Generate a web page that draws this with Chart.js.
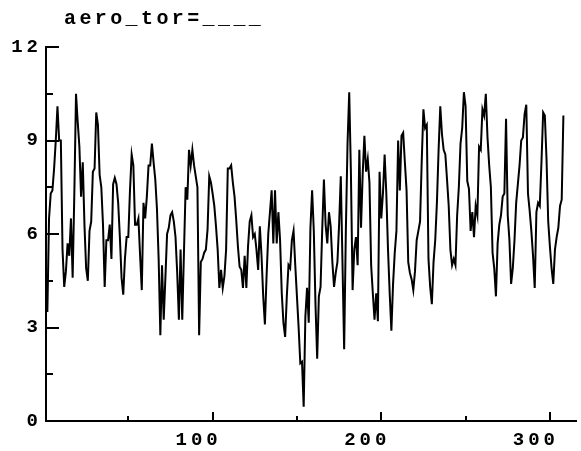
<!DOCTYPE html>
<html>
<head>
<meta charset="utf-8">
<script src="https://cdn.jsdelivr.net/npm/chart.js@4.4.0/dist/chart.umd.min.js"></script>
<style>
  body { margin: 0; background: #fff; }
  #wrap { width: 581px; height: 451px; }
</style>
</head>
<body>
<div id="wrap"><canvas id="lineChart"></canvas></div>
<script>
const titleText = 'aero_tor=____';
const yTicks = [0, 3, 6, 9, 12];
const yMinor = [1.5, 4.5, 7.5, 10.5];
const xTicks = [100, 200, 300];
const xMinor = [50, 150, 250];

// values, one per time step
const values = [
  4.9, 3.5, 6.5, 7.3, 7.4, 8.1, 9.0, 10.1, 9.0, 9.0,
  5.5, 4.3, 4.8, 5.7, 5.3, 6.5, 4.6, 7.3, 10.5, 9.6,
  8.8, 7.2, 8.3, 6.3, 4.9, 4.5, 6.1, 6.4, 8.0, 8.1,
  9.9, 9.5, 7.9, 7.5, 6.3, 4.3, 5.8, 5.8, 6.3, 5.2,
  7.6, 7.8, 7.6, 7.0, 5.9, 4.6, 4.05, 5.2, 5.9, 5.9,
  7.4, 8.55, 8.2, 6.3, 6.3, 6.5, 5.3, 4.2, 7.0, 6.5,
  7.2, 8.2,
  8.2, 8.9, 8.3, 7.75, 6.8, 5.2, 2.75, 5.0, 3.25, 4.6,
  6.0, 6.2, 6.6, 6.7, 6.4, 5.9, 4.75, 3.25, 5.5, 3.25,
  5.4, 7.5, 7.1, 8.7, 8.2, 8.7, 8.2, 7.85, 7.5, 2.75,
  5.1, 5.2, 5.4, 5.5, 6.15, 7.85, 7.65, 7.3, 6.9, 6.25,
  5.5, 4.27, 4.85, 4.27, 4.65, 5.5, 8.1, 8.1, 8.2, 7.65,
  7.2, 6.45, 5.6, 4.95, 4.85, 4.27, 5.3, 4.27, 5.6, 6.4,
  6.6, 5.9,
  6.0, 5.5, 4.85, 6.25, 5.3, 4.0, 3.1, 4.65, 6.0, 6.7,
  7.4, 5.7, 7.4, 5.7, 6.7, 5.8, 4.1, 3.15, 2.7, 4.0,
  5.0, 4.9, 5.8, 6.1, 5.0, 4.0, 3.0, 1.85, 1.9, 0.46,
  3.35, 4.27, 3.15, 6.2, 7.4, 6.1, 3.75, 2.0, 4.0, 4.3,
  6.15, 7.75, 6.3, 5.7, 6.7, 6.25, 5.1, 4.3, 4.75, 5.1,
  6.3, 7.85, 5.1, 2.3, 6.1, 8.9, 10.55, 8.0, 4.2, 5.5,
  5.9, 5.0, 8.7, 6.2, 7.95, 9.15, 8.0, 8.4, 7.65, 5.0,
  4.1, 3.25, 4.1, 3.2, 8.0, 6.5, 7.3, 8.55, 7.3, 5.5,
  4.1, 2.9, 4.4, 5.4, 6.1, 9.0, 7.4, 9.15, 9.25, 8.3,
  7.4, 5.1, 4.75, 4.55, 4.2, 4.8, 5.8, 6.1, 6.4, 8.35,
  10.0, 9.4, 9.5, 5.2, 4.3, 3.75, 5.1, 5.8, 7.0, 8.7,
  10.1, 9.2, 8.7, 8.55, 7.75, 6.9, 5.5, 5.0, 5.2, 5.0,
  6.6, 7.5, 8.9, 9.4, 10.55, 10.1, 7.7, 7.45, 6.1, 6.7,
  5.9, 6.9, 6.6, 8.8, 8.7, 10.0, 9.8, 10.5, 9.1, 8.2,
  7.5, 5.4, 4.9, 4.0, 5.7, 6.3, 6.6, 7.2, 7.3, 9.7,
  6.6, 5.8, 4.4, 4.9, 5.8, 7.0, 7.6, 8.2, 9.0, 9.1,
  9.85, 10.15, 7.3, 6.75, 6.1, 5.3, 4.27, 6.7, 7.0, 6.9,
  8.3, 9.9, 9.8, 8.4, 6.4, 5.6, 4.9, 4.4, 5.5, 5.9,
  6.2, 6.9, 7.1, 9.8
];

const points = values.map((v, i) => ({ x: i + 1, y: v }));

const monoFont = '"Liberation Mono", "Courier New", monospace';

// inward tick marks + title
const axisMarks = {
  id: 'axisMarks',
  beforeLayout(chart) { chart.ctx.letterSpacing = '4px'; },
  beforeDraw(chart) { chart.ctx.letterSpacing = '4px'; },
  afterDraw(chart) {
    const { ctx, chartArea, scales: { x, y } } = chart;
    ctx.save();
    ctx.strokeStyle = '#000';
    ctx.lineWidth = 2;
    ctx.beginPath();
    yTicks.forEach(v => {
      const py = Math.round(y.getPixelForValue(v));
      ctx.moveTo(chartArea.left, py);
      ctx.lineTo(chartArea.left + 13, py);
    });
    yMinor.forEach(v => {
      const py = Math.round(y.getPixelForValue(v));
      ctx.moveTo(chartArea.left, py);
      ctx.lineTo(chartArea.left + 7, py);
    });
    xTicks.forEach(v => {
      const px = Math.round(x.getPixelForValue(v));
      ctx.moveTo(px, chartArea.bottom);
      ctx.lineTo(px, chartArea.bottom - 9);
    });
    xMinor.forEach(v => {
      const px = Math.round(x.getPixelForValue(v));
      ctx.moveTo(px, chartArea.bottom);
      ctx.lineTo(px, chartArea.bottom - 5);
    });
    ctx.stroke();

    ctx.font = 'bold 20px ' + monoFont;
    ctx.letterSpacing = '3.4px';
    ctx.fillStyle = '#000';
    ctx.textAlign = 'left';
    ctx.textBaseline = 'alphabetic';
    ctx.fillText(titleText, 64, 24);
    ctx.restore();
  }
};

new Chart(document.getElementById('lineChart'), {
  type: 'line',
  data: {
    datasets: [{
      label: 'aero_tor',
      data: points,
      borderColor: '#000',
      borderWidth: 2,
      pointRadius: 0,
      tension: 0,
      fill: false
    }]
  },
  options: {
    responsive: true,
    maintainAspectRatio: false,
    animation: false,
    layout: { padding: { top: 47, right: -5, left: 0, bottom: 0 } },
    plugins: {
      legend: { display: false },
      tooltip: { enabled: false }
    },
    scales: {
      x: {
        type: 'linear',
        min: 1.2,
        max: 316,
        afterBuildTicks: s => { s.ticks = xTicks.map(v => ({ value: v })); },
        afterFit: s => { s.height = 30; },
        grid: { display: false, drawTicks: false },
        border: { display: true, color: '#000', width: 2 },
        ticks: {
          color: '#000',
          padding: 8,
          labelOffset: -14,
          maxRotation: 0,
          font: { family: monoFont, weight: 'bold', size: 19 }
        }
      },
      y: {
        min: 0,
        max: 12,
        afterBuildTicks: s => { s.ticks = yTicks.map(v => ({ value: v })); },
        afterFit: s => { s.width = 46; },
        grid: { display: false, drawTicks: false },
        border: { display: true, color: '#000', width: 2 },
        ticks: {
          color: '#000',
          padding: 4,
          font: { family: monoFont, weight: 'bold', size: 19 }
        }
      }
    }
  },
  plugins: [axisMarks]
});
</script>
</body>
</html>
